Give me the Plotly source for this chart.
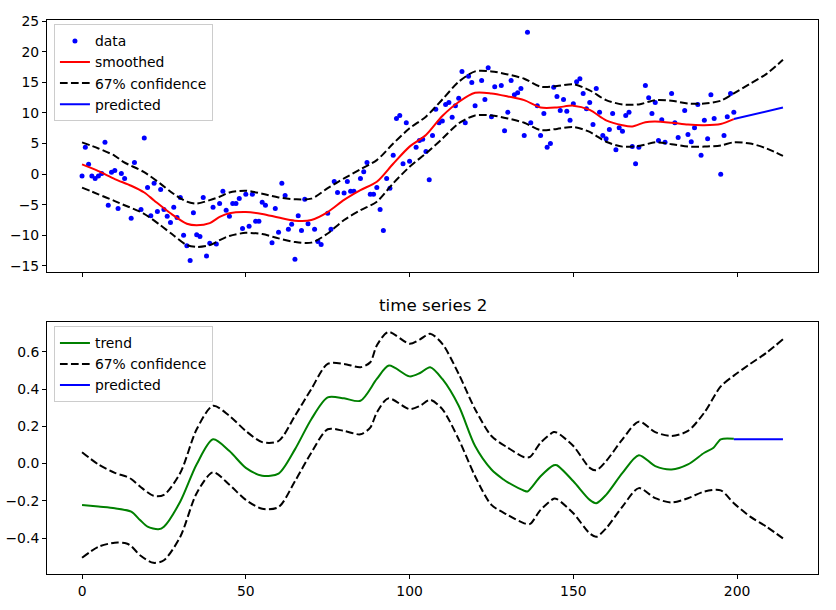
import plotly.graph_objects as go

# ---------------- time series 1: observations ----------------
data_x = [0,1,2,3,4,5,6,7,8,9,10,11,12,13,15,16,18,19,20,21,22,23,24,25,26,27,28,29,30,
          31,32,33,34,35,36,37,38,39,40,41,42,43,44,45,46,47,48,49,50,51,52,53,54,55,56,
          58,59,60,61,62,63,64,65,66,
          67,68,69,71,72,73,75,76,77,78,80,81,82,83,85,86,87,88,89,90,91,92,93,94,95,96,
          97,98,99,100,102,103,104,105,106,107,108,109,110,111,112,113,114,115,116,117,
          118,119,120,122,123,124,125,126,128,129,130,131,132,133,134,135,136,137,139,140,
          141,142,143,144,145,146,147,148,149,150,151,152,153,154,155,156,157,158,159,160,
          161,162,163,164,165,166,167,168,169,170,172,173,174,175,176,177,178,180,181,182,
          184,185,186,187,188,189,190,191,192,193,195,196,197,198,199]
data_y = [-0.3,4.4,1.6,-0.3,-0.7,-0.3,0.1,5.2,-5.1,0.3,0.6,-5.6,0.1,-0.7,-7.2,1.9,-5.8,5.9,
          -2.2,-6.8,-1.5,-6.1,-2.5,-5.8,-6.9,-7.9,-5.4,-7.1,-3.8,-10.0,-11.7,-14.1,-6.3,
          -9.9,-10.2,-3.8,-13.4,-11.3,-5.4,-11.4,-4.8,-2.8,-5.9,-6.9,-4.8,-4.8,-4.0,-8.9,
          -3.3,-8.5,-3.3,-7.7,-7.7,-4.6,-5.1,-11.2,-5.6,-9.5,-1.5,-3.5,-9.0,-8.2,-13.9,-6.8,
          -9.2,-4.1,-8.1,-9.0,-11.0,-11.5,-6.4,-9.0,-1.2,-3.0,-3.1,-1.2,-2.8,-2.8,-0.7,0.4,
          1.9,-3.3,-3.3,-2.2,-5.8,-9.2,-0.7,-2.3,3.1,9.1,9.6,1.7,8.4,2.1,4.4,5.5,5.7,3.7,
          -0.9,6.3,10.6,8.4,8.7,11.4,11.7,9.3,11.2,12.4,16.8,8.4,16.0,15.0,11.2,15.3,12.2,
          17.4,9.4,14.3,14.5,7.1,10.1,15.3,13.0,13.3,14.0,6.3,23.2,8.4,11.2,6.3,
          9.9,4.4,5.0,14.2,12.7,10.4,12.2,10.3,8.8,11.5,15.1,15.6,13.2,10.7,11.7,8.1,14.0,
          10.1,6.3,5.8,7.3,9.9,4.0,7.6,7.0,9.6,10.1,4.5,1.7,4.4,14.5,12.5,9.9,11.7,5.5,8.9,
          5.2,13.2,8.4,6.0,10.4,6.5,5.3,7.6,11.4,3.1,8.8,5.8,13.0,9.1,0.0,6.3,9.4,13.2,10.1]

# smoothed state (time series 1)
smooth_x = [0,5,10,15,19,22,27,32,35,39,42,45,50,55,60,65,70,75,80,85,90,95,100,105,110,
            115,120,125,130,135,140,145,150,155,160,165,168,172,175,180,185,190,195,199]
smooth_y = [1.6,0.5,-0.8,-1.9,-3.0,-4.3,-6.4,-8.1,-8.35,-8.0,-7.0,-6.4,-6.2,-6.5,-7.1,-7.6,
            -7.5,-6.2,-4.2,-2.6,-1.25,1.7,4.5,6.4,9.5,11.8,13.3,13.2,12.7,12.1,10.9,10.9,
            11.2,10.5,8.8,8.0,7.8,8.5,8.6,8.4,8.1,8.0,8.2,9.0]
band1_x = [0,5,10,12.6,18.7,23.8,27.9,32,35,39,42,45,50,55,60,65,70,75,80,85,90,95,100,105,
           110,115,120,125,130,135,140,145,150,155,160,165,170,175,180,185,190,195,199,204,
           209,214]
upper1 = [5.2,4.2,3.0,2.0,0.4,-1.5,-3.2,-4.5,-4.8,-4.25,-3.7,-3.0,-2.7,-3.2,-3.8,-4.1,-4.0,
          -2.3,-0.7,0.8,2.3,5.0,7.5,9.4,12.2,15.1,16.8,16.8,16.3,15.6,14.3,14.4,14.7,13.7,
          12.1,11.4,11.4,12.1,12.0,11.55,11.55,12.0,13.2,14.8,16.4,18.7]
lower1 = [-2.2,-3.3,-4.4,-5.0,-6.4,-8.3,-10.0,-11.6,-11.9,-11.6,-10.8,-10.1,-9.6,-9.8,-10.5,
          -11.1,-11.2,-9.7,-7.5,-5.9,-4.5,-1.5,1.2,3.4,5.8,8.3,9.6,9.6,9.1,8.4,7.2,7.4,7.7,
          6.9,5.3,4.5,4.6,5.2,4.9,4.5,4.5,4.7,5.2,5.0,4.2,3.0]
pred1_x = [199, 214]
pred1_y = [9.0, 10.9]

# ---------------- time series 2: trend ----------------
trend_x = [0,5,10,15,17.7,20,23.3,25,30,35,40,45,50,55,60,65,70,75,80,85,90,93.7,100,103.2,
           106.3,110,115,120,125,128.7,130,135,136,140,144,145,150,155,157,160,165,170,175,
           180,185,190,192.8,195,199]
trend_y = [-0.222,-0.231,-0.240,-0.258,-0.303,-0.339,-0.353,-0.339,-0.204,-0.004,0.130,
           0.067,-0.023,-0.065,-0.054,0.076,0.238,0.355,0.350,0.337,0.454,0.526,0.468,0.486,
           0.517,0.454,0.310,0.094,-0.032,-0.086,-0.101,-0.146,-0.150,-0.068,-0.009,-0.009,
           -0.095,-0.195,-0.213,-0.168,-0.050,0.045,-0.014,-0.032,-0.005,0.058,0.085,0.130,
           0.133]
band2_x = [0,5,10,13.6,15,17.7,21.8,25,30,35,40,45,50,55,60,65,70,75,80,85,88,90,93.5,100,
           103.2,106.3,110,115,120,125,130,135,136.8,140,144,145,150,155,157,160,165,170,175,
           180,185,190,195,199,204,209,214]
upper2 = [0.061,-0.005,-0.050,-0.070,-0.083,-0.123,-0.173,-0.168,-0.050,0.184,0.310,0.256,
          0.175,0.115,0.121,0.256,0.400,0.535,0.535,0.517,0.544,0.634,0.706,0.643,0.667,
          0.697,0.643,0.481,0.292,0.148,0.085,0.034,0.036,0.112,0.169,0.166,0.094,-0.023,
          -0.036,0.013,0.130,0.225,0.169,0.148,0.175,0.274,0.414,0.472,0.535,0.595,0.667]
lower2 = [-0.506,-0.447,-0.425,-0.429,-0.443,-0.492,-0.533,-0.519,-0.393,-0.159,-0.047,
          -0.114,-0.195,-0.243,-0.234,-0.095,0.058,0.184,0.175,0.157,0.193,0.274,0.350,0.292,
          0.310,0.342,0.292,0.130,-0.068,-0.222,-0.276,-0.321,-0.324,-0.249,-0.189,-0.191,
          -0.267,-0.375,-0.393,-0.348,-0.231,-0.132,-0.186,-0.209,-0.186,-0.150,-0.144,
          -0.213,-0.285,-0.339,-0.402]
pred2_x = [199, 214]
pred2_y = [0.130, 0.130]

x_ticks = [0, 50, 100, 150, 200]
y1_ticks = [-15, -10, -5, 0, 5, 10, 15, 20, 25]
y2_ticks = [-0.4, -0.2, 0.0, 0.2, 0.4, 0.6]

FONT = "DejaVu Sans"
BLUE = "#0000ff"
DASH = "7.7px,3.3px"

fig = go.Figure()

# top panel
fig.add_trace(go.Scatter(x=data_x, y=data_y, mode="markers", name="data",
                         marker=dict(color=BLUE, size=5), xaxis="x", yaxis="y",
                         legend="legend"))
fig.add_trace(go.Scatter(x=smooth_x, y=smooth_y, mode="lines", name="smoothed",
                         line=dict(color="#ff0000", width=2, shape="spline", smoothing=0.8),
                         xaxis="x", yaxis="y", legend="legend"))
fig.add_trace(go.Scatter(x=band1_x, y=upper1, mode="lines", name="67% confidence",
                         line=dict(color="black", width=2, dash=DASH, shape="spline",
                                   smoothing=0.8),
                         xaxis="x", yaxis="y", legend="legend"))
fig.add_trace(go.Scatter(x=band1_x, y=lower1, mode="lines", name="67% confidence",
                         line=dict(color="black", width=2, dash=DASH, shape="spline",
                                   smoothing=0.8),
                         showlegend=False, xaxis="x", yaxis="y", legend="legend"))
fig.add_trace(go.Scatter(x=pred1_x, y=pred1_y, mode="lines", name="predicted",
                         line=dict(color=BLUE, width=2), xaxis="x", yaxis="y",
                         legend="legend"))

# bottom panel
fig.add_trace(go.Scatter(x=trend_x, y=trend_y, mode="lines", name="trend",
                         line=dict(color="#008000", width=2, shape="spline", smoothing=0.8),
                         xaxis="x2", yaxis="y2", legend="legend2"))
fig.add_trace(go.Scatter(x=band2_x, y=upper2, mode="lines", name="67% confidence",
                         line=dict(color="black", width=2, dash=DASH, shape="spline",
                                   smoothing=0.8),
                         xaxis="x2", yaxis="y2", legend="legend2"))
fig.add_trace(go.Scatter(x=band2_x, y=lower2, mode="lines", name="67% confidence",
                         line=dict(color="black", width=2, dash=DASH, shape="spline",
                                   smoothing=0.8),
                         showlegend=False, xaxis="x2", yaxis="y2", legend="legend2"))
fig.add_trace(go.Scatter(x=pred2_x, y=pred2_y, mode="lines", name="predicted",
                         line=dict(color=BLUE, width=2), xaxis="x2", yaxis="y2",
                         legend="legend2"))

axis_common = dict(showline=True, mirror=True, linecolor="black", linewidth=1,
                   ticks="outside", ticklen=4, tickwidth=1, tickcolor="black",
                   showgrid=False, zeroline=False, automargin=False,
                   tickfont=dict(family=FONT, size=13.9, color="black"))

legend_common = dict(bgcolor="rgba(255,255,255,0.8)", bordercolor="#cccccc",
                     borderwidth=1, font=dict(family=FONT, size=13.9, color="black"),
                     xanchor="left", yanchor="top", tracegroupgap=0)

fig.update_layout(
    width=836, height=610,
    margin=dict(l=47, r=18, t=20, b=36),
    paper_bgcolor="white", plot_bgcolor="white",
    font=dict(family=FONT, size=13.9, color="black"),
    xaxis=dict(domain=[0, 1], anchor="y", range=[-10.7, 224.7], tickvals=x_ticks,
               showticklabels=False, matches="x2", **axis_common),
    yaxis=dict(domain=[0.5451, 1], anchor="x", range=[-16.0, 25.2], tickvals=y1_ticks,
               **axis_common),
    xaxis2=dict(domain=[0, 1], anchor="y2", range=[-10.7, 224.7], tickvals=x_ticks,
                **axis_common),
    yaxis2=dict(domain=[0, 0.4549], anchor="x2", range=[-0.593, 0.760], tickvals=y2_ticks,
                tickformat=".1f", **axis_common),
    legend=dict(x=0.009, y=0.992, **legend_common),
    legend2=dict(x=0.009, y=0.447, **legend_common),
    annotations=[dict(text="time series 2", x=0.5, y=0.4549, xref="paper", yref="paper",
                      xanchor="center", yanchor="bottom", yshift=5, showarrow=False,
                      font=dict(family=FONT, size=16.7, color="black"))],
)

fig.write_html("out.html")
